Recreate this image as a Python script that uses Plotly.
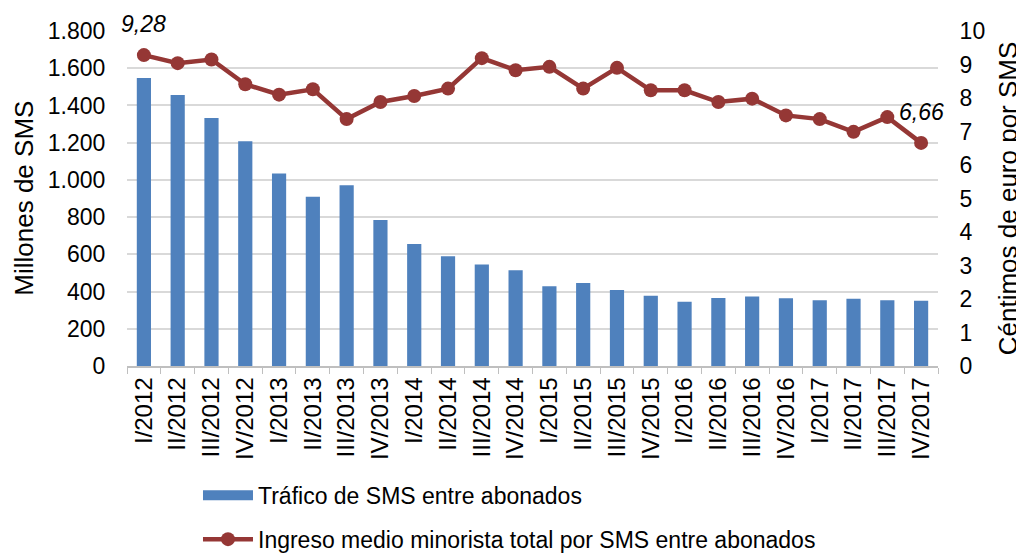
import plotly.graph_objects as go

categories = ["I/2012", "II/2012", "III/2012", "IV/2012",
              "I/2013", "II/2013", "III/2013", "IV/2013",
              "I/2014", "II/2014", "III/2014", "IV/2014",
              "I/2015", "II/2015", "III/2015", "IV/2015",
              "I/2016", "II/2016", "III/2016", "IV/2016",
              "I/2017", "II/2017", "III/2017", "IV/2017"]

trafico_sms = [1548, 1456, 1332, 1208, 1034, 909, 971, 784,
               655, 590, 545, 514, 428, 446, 409, 377,
               345, 365, 374, 364, 353, 362, 353, 351]

ingreso_sms = [9.28, 9.04, 9.15, 8.41, 8.10, 8.26, 7.37, 7.88,
               8.06, 8.28, 9.19, 8.83, 8.93, 8.28, 8.90, 8.23,
               8.23, 7.88, 7.98, 7.48, 7.37, 6.99, 7.43, 6.66]

labelled_points = [0, 23]
label_texts = ["9,28", "6,66"]

name_bar = "Tráfico de SMS entre abonados"
name_line = "Ingreso medio minorista total por SMS entre abonados"
title_left = "Millones de SMS"
title_right = "Céntimos de euro por SMS"

BLUE = "#4F81BD"
RED = "#953735"
FONT = "Liberation Sans, Arial, sans-serif"

fig = go.Figure()
fig.add_trace(go.Bar(
    x=categories, y=trafico_sms, name=name_bar,
    marker=dict(color=BLUE, line=dict(width=0)), width=0.42,
    showlegend=False, yaxis="y",
))
# legend entry for the bars (wide rectangle swatch)
fig.add_trace(go.Scatter(
    x=[None], y=[None], name=name_bar, mode="lines",
    line=dict(color=BLUE, width=12), legendgroup="a", yaxis="y",
))
fig.add_trace(go.Scatter(
    x=categories, y=ingreso_sms, name=name_line,
    mode="lines+markers", line=dict(color=RED, width=4.5),
    marker=dict(color=RED, size=14), legendgroup="b", yaxis="y2",
))

for idx, txt in zip(labelled_points, label_texts):
    fig.add_annotation(
        x=categories[idx], y=ingreso_sms[idx], xref="x", yref="y2",
        text=f"<i>{txt}</i>", showarrow=False, yshift=31,
        font=dict(family=FONT, size=23, color="#000000"),
    )

fig.add_annotation(
    x=-0.128, y=0.5, xref="paper", yref="paper", text=title_left,
    textangle=-90, showarrow=False, xanchor="center", yanchor="middle",
    font=dict(family=FONT, size=26, color="#000000"),
)
fig.add_annotation(
    x=1.086, y=0.5, xref="paper", yref="paper", text=title_right,
    textangle=-90, showarrow=False, xanchor="center", yanchor="middle",
    font=dict(family=FONT, size=26, color="#000000"),
)

fig.update_layout(
    template="none",
    width=1016, height=548,
    margin=dict(l=119, r=86, t=23, b=190, autoexpand=False),
    paper_bgcolor="white", plot_bgcolor="white",
    font=dict(family=FONT, size=22, color="#000000"),
    separators=",.",
    showlegend=True,
    legend=dict(
        orientation="v", xref="container", x=0.187, xanchor="left",
        yref="container", y=0.15, yanchor="top",
        font=dict(family=FONT, size=23), tracegroupgap=11, itemwidth=50,
        bgcolor="rgba(0,0,0,0)", borderwidth=0,
    ),
    xaxis=dict(
        type="category", tickangle=-90, tickfont=dict(size=24),
        range=[-0.5, 23.5],
        showgrid=False, showline=True, linecolor="#BFBFBF", linewidth=1.5,
        ticks="outside", tickson="boundaries", ticklen=6, tickcolor="#BFBFBF",
        automargin=False, zeroline=False,
    ),
    yaxis=dict(
        range=[0, 1800], dtick=200, tickformat=",d",
        showgrid=True, gridcolor="#D9D9D9", gridwidth=2,
        zeroline=False, showline=False,
        ticks="outside", ticklen=16, tickcolor="rgba(0,0,0,0)",
        tickfont=dict(size=23), automargin=False,
    ),
    yaxis2=dict(
        range=[0, 10], dtick=1, overlaying="y", side="right",
        showgrid=False, zeroline=False, showline=False,
        ticks="outside", ticklen=16, tickcolor="rgba(0,0,0,0)",
        tickfont=dict(size=23), automargin=False,
    ),
)

fig.write_html("out.html")
